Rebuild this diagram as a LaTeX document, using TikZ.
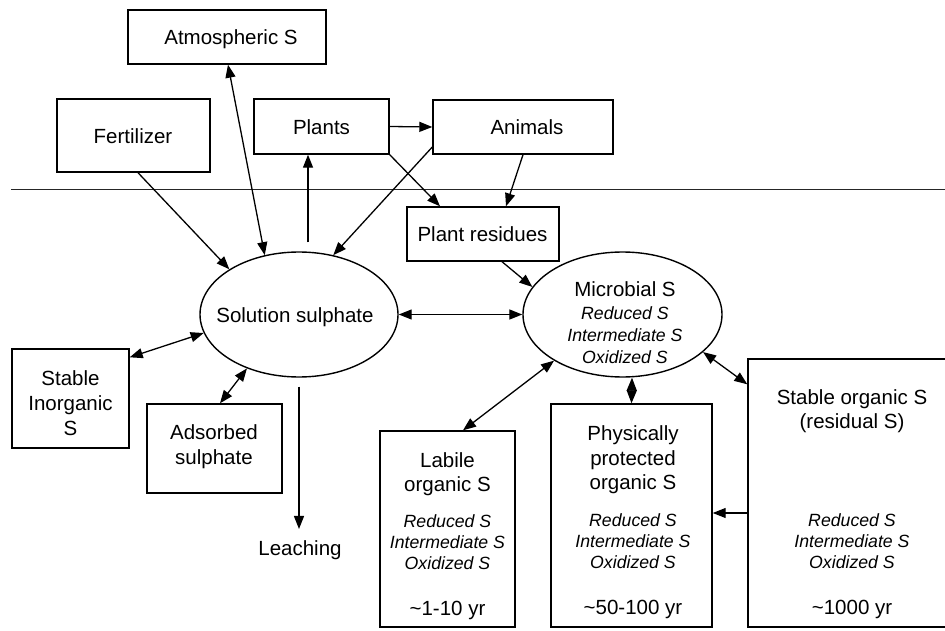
\documentclass[tikz,border=0pt]{standalone}
\usepackage{fontspec}
\setmainfont{Liberation Sans}
\usetikzlibrary{arrows.meta,shapes.geometric,calc}
\tikzset{
  box/.style={draw, rectangle, line width=1.4pt, inner sep=0pt},
  oval/.style={draw, ellipse, line width=1.4pt, inner sep=0pt},
  lbl/.style={inner sep=0pt, anchor=base, font=\fontsize{20.5}{24}\selectfont},
  sub/.style={inner sep=0pt, anchor=base, font=\fontsize{17.7}{21}\selectfont\itshape},
  tip/.tip={Triangle[length=13pt,width=10pt]},
  arr/.style={line width=1.3pt, -tip},
  darr/.style={line width=1.3pt, tip-tip},
}
\begin{document}
\begin{tikzpicture}[x=1pt,y=-1pt]
\useasboundingbox (0,0) rectangle (945,631);
\clip (0,0) rectangle (945,631);

% divider
\draw[line width=0.9pt, black!85] (11,189.5) -- (945,189.5);

% boxes
\node[box, minimum width=198pt, minimum height=54pt] (atm) at (227,37) {};
\node[box, minimum width=153pt, minimum height=73pt] (fert) at (133.5,135.5) {};
\node[box, minimum width=135pt, minimum height=55pt] (pl) at (321.5,126.5) {};
\node[box, minimum width=180pt, minimum height=54pt] (ani) at (523,127) {};
\node[box, minimum width=152pt, minimum height=54pt] (res) at (483,234) {};
\node[box, minimum width=117pt, minimum height=99pt] (si) at (70.5,398.5) {};
\node[box, minimum width=135pt, minimum height=89pt] (ads) at (214.5,448.5) {};
\node[box, minimum width=135pt, minimum height=196pt] (lab) at (447.5,529) {};
\node[box, minimum width=161pt, minimum height=223pt] (phys) at (631.5,515.5) {};
\node[box, minimum width=208pt, minimum height=268pt] (so) at (852,493) {};

% ellipses
\node[oval, minimum width=198pt, minimum height=125pt] (sol) at (299,314.5) {};
\node[oval, minimum width=199pt, minimum height=125pt] (mic) at (622.5,314.5) {};

% texts
\node[lbl] (tatm) at (231,45) {Atmospheric S};
\node[lbl] (tfert) at (133,144) {Fertilizer};
\node[lbl] (tpl) at (321.5,135) {Plants};
\node[lbl] (tani) at (527,135) {Animals};
\node[lbl] (tres) at (482.5,242) {Plant residues};
\node[lbl] (tsol) at (295,322) {Solution sulphate};
\node[lbl] (tmic) at (625,296) {Microbial S};
\node[sub] (tmic1) at (625,319.5) {Reduced S};
\node[sub] (tmic2) at (625,341.5) {Intermediate S};
\node[sub] (tmic3) at (625,363.5) {Oxidized S};
\node[lbl] (tsi1) at (70.5,385) {Stable};
\node[lbl] (tsi2) at (70.5,410) {Inorganic};
\node[lbl] (tsi3) at (70.5,435) {S};
\node[lbl] (tads1) at (214,439) {Adsorbed};
\node[lbl] (tads2) at (214,464) {sulphate};
\node[lbl] (leach) at (300,555) {Leaching};

\node[lbl] (tlab1) at (447.5,467) {Labile};
\node[lbl] (tlab2) at (447.5,491) {organic S};
\node[sub] (tlab3) at (447.5,527) {Reduced S};
\node[sub] (tlab4) at (447.5,548) {Intermediate S};
\node[sub] (tlab5) at (447.5,569) {Oxidized S};
\node[lbl] (tlab6) at (447.5,615) {\textasciitilde1-10 yr};

\node[lbl] (tph1) at (633,440) {Physically};
\node[lbl] (tph2) at (633,465) {protected};
\node[lbl] (tph3) at (633,489) {organic S};
\node[sub] (tph4) at (633,526) {Reduced S};
\node[sub] (tph5) at (633,547) {Intermediate S};
\node[sub] (tph6) at (633,568) {Oxidized S};
\node[lbl] (tph7) at (633,614) {\textasciitilde50-100 yr};

\node[lbl] (tso1) at (852,404) {Stable organic S};
\node[lbl] (tso2) at (852,428) {(residual S)};
\node[sub] (tso3) at (852,526) {Reduced S};
\node[sub] (tso4) at (852,547) {Intermediate S};
\node[sub] (tso5) at (852,568) {Oxidized S};
\node[lbl] (tso6) at (852,614) {\textasciitilde1000 yr};

% connectors
\draw[darr] ([xshift=1pt]atm.south) -- (sol.120);
\draw[arr] ([xshift=4.5pt]fert.south) -- (sol.147);
\draw[arr] ([xshift=9pt,yshift=9pt]sol.north) -- ([xshift=-13.5pt]pl.south);
\draw[arr] (pl.east) -- (ani.west);
\draw[arr] ([yshift=-20pt]ani.west) -- (sol.60);
\draw[arr] (pl.south east) -- ([xshift=-43pt]res.north);
\draw[arr] (ani.south) -- ([xshift=23pt]res.north);
\draw[arr] ([xshift=19pt]res.south) -- (mic.163);
\draw[darr] (sol.east) -- (mic.west);
\draw[darr] ([yshift=-9pt]si.north east) -- (sol.191);
\draw[darr] ([xshift=5.5pt]ads.north) -- (sol.226);
\draw[arr] ([yshift=-9pt]sol.south) -- ([xshift=-1pt,yshift=11pt]leach.north);
\draw[darr] (mic.214) -- ([xshift=15.5pt]lab.north);
\draw[darr] ([xshift=9.5pt]mic.south) -- (phys.north);
\draw[darr] (mic.335) -- ([yshift=-26pt]so.north west);
\draw[arr] ([yshift=-20pt]so.west) -- ([yshift=2.5pt]phys.east);
\end{tikzpicture}
\end{document}
